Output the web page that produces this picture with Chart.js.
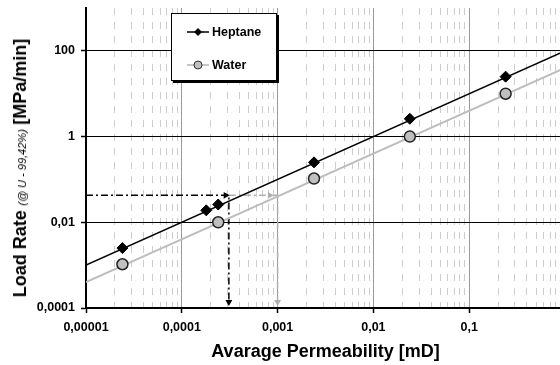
<!DOCTYPE html>
<html>
<head>
<meta charset="utf-8">
<script src="https://cdn.jsdelivr.net/npm/chart.js@4.4.0/dist/chart.umd.min.js"></script>
<style>
  html, body { margin: 0; padding: 0; overflow: hidden; background: #fff; }
  #wrap { position: relative; width: 600px; height: 365px; font-family: "Liberation Sans", Arial, sans-serif; }
  #ytitle {
    position: absolute; left: 20px; top: 168px; white-space: nowrap;
    transform: translate(-50%, -50%) rotate(-90deg); color: #000; line-height: 1;
  }
  #ytitle b { font-size: 18px; font-weight: bold; }
  #ytitle i { font-size: 11px; }
  #legend {
    position: absolute; left: 171px; top: 13px; width: 104px; height: 66px;
    background: #fff; border: 1px solid #000; box-shadow: 2px 2px 0 #000;
  }
  .row { position: absolute; left: 15px; height: 14px; display: flex; align-items: center;
         font-weight: bold; font-size: 12.5px; }
  .row svg { margin-right: 3px; }
</style>
</head>
<body>
<div id="wrap">
  <canvas id="permChart" width="600" height="365"></canvas>
  <div id="ytitle"><b>Load Rate</b> <i>(@ U - 99,42%)</i> <b>[MPa/min]</b></div>
  <div id="legend">
    <div class="row" style="top:11px">
      <svg width="22" height="12"><line x1="0" y1="6" x2="22" y2="6" stroke="#000" stroke-width="1.5"/><polygon points="11,2 15,6 11,10 7,6" fill="#000"/></svg>Heptane
    </div>
    <div class="row" style="top:44px">
      <svg width="22" height="12"><line x1="0" y1="6" x2="22" y2="6" stroke="#b4b4b4" stroke-width="1.5"/><circle cx="11" cy="6" r="4" fill="#c0c0c0" stroke="#333" stroke-width="1"/></svg>Water
    </div>
  </div>
</div>
<script>
document.addEventListener("DOMContentLoaded", function () {

  // measured points
  const heptanePerm = [0.000024, 0.00018, 0.00024, 0.0024, 0.024, 0.24];
  const heptaneRate = [0.0025, 0.019, 0.026, 0.25, 2.6, 25];
  const waterPerm = [0.000024, 0.00024, 0.0024, 0.024, 0.24];
  const waterRate = [0.00105, 0.0100, 0.105, 1.0, 10];

  // fitted lines (end points)
  const trendPerm = [0.00001, 1];
  const heptaneTrend = [0.001, 100];
  const waterTrend = [0.0004, 40];

  // dash-dot reading guides
  const guideBlackPerm = [0.00001, 0.00031, 0.00031];
  const guideBlackRate = [0.0425, 0.0425, 0.00013];
  const guideGrayPerm = [0.00031, 0.001, 0.001];
  const guideGrayRate = [0.0425, 0.0425, 0.00013];
  const arrowPerm = [0.000287, 0.00031, 0.00083, 0.001];
  const arrowRate = [0.0425, 0.000138, 0.0425, 0.000138];

  // axis ticks
  const xTickValues = [0.00001, 0.0001, 0.001, 0.01, 0.1, 1];
  const xTickLabels = ["0,00001", "0,0001", "0,001", "0,01", "0,1", "1"];
  const yTickValues = [0.0001, 0.01, 1, 100];
  const yTickLabels = ["0,0001", "0,01", "1", "100"];

  const FONT = "'Liberation Sans', Arial, sans-serif";
  const toXY = (xs, ys) => xs.map((x, i) => ({ x: x, y: ys[i] }));
  const isMajor = (v) => Math.abs(Math.log10(v) - Math.round(Math.log10(v))) < 1e-6;

  // minor ticks 1..9 per decade for the grid
  let xGridTicks = [];
  for (let d = 0; d < xTickValues.length - 1; d++) {
    for (let m = 1; m < 10; m++) xGridTicks.push(xTickValues[d] * m);
  }
  xGridTicks.push(xTickValues[xTickValues.length - 1]);

  const labelFor = (v, vals, labels) => {
    const i = vals.findIndex((t) => Math.abs(t - v) / t < 1e-6);
    return i >= 0 ? labels[i] : "";
  };

  const ctx = document.getElementById("permChart");
  const chart = new Chart(ctx, {
    type: "scatter",
    data: {
      datasets: [
        {
          label: "Heptane",
          data: toXY(heptanePerm, heptaneRate),
          pointStyle: "rectRot",
          pointRadius: 5.5,
          backgroundColor: "#000",
          borderColor: "#000",
          borderWidth: 1,
          showLine: false,
          order: 1,
        },
        {
          label: "Water",
          data: toXY(waterPerm, waterRate),
          pointStyle: "circle",
          pointRadius: 5.5,
          backgroundColor: "#c0c0c0",
          borderColor: "#222",
          borderWidth: 1.5,
          showLine: false,
          order: 2,
        },
        {
          label: "Heptane fit",
          data: toXY(trendPerm, heptaneTrend),
          showLine: true,
          borderColor: "#000",
          borderWidth: 1.5,
          pointRadius: 0,
          order: 3,
        },
        {
          label: "Water fit",
          data: toXY(trendPerm, waterTrend),
          showLine: true,
          borderColor: "#bdbdbd",
          borderWidth: 2,
          pointRadius: 0,
          order: 4,
        },
        {
          label: "guide black",
          data: toXY(guideBlackPerm, guideBlackRate),
          showLine: true,
          borderColor: "#000",
          borderWidth: 1.5,
          borderDash: [7, 3, 2, 3],
          pointRadius: 0,
          order: 5,
        },
        {
          label: "guide gray",
          data: toXY(guideGrayPerm, guideGrayRate),
          showLine: true,
          borderColor: "#b0b0b0",
          borderWidth: 1.5,
          borderDash: [7, 3, 2, 3],
          pointRadius: 0,
          order: 6,
        },
        {
          label: "arrows",
          data: toXY(arrowPerm, arrowRate),
          showLine: false,
          pointStyle: "triangle",
          pointRadius: 4,
          pointRotation: [90, 180, 90, 180],
          backgroundColor: ["#000", "#000", "#b0b0b0", "#b0b0b0"],
          borderColor: ["#000", "#000", "#b0b0b0", "#b0b0b0"],
          borderWidth: 0,
          order: 0,
        },
      ],
    },
    options: {
      responsive: false,
      animation: false,
      devicePixelRatio: 1,
      layout: { padding: { top: 8, right: 35, left: 0, bottom: 0 } },
      plugins: { legend: { display: false }, tooltip: { enabled: false } },
      scales: {
        x: {
          type: "logarithmic",
          min: 0.00001,
          max: 1,
          afterBuildTicks: (scale) => {
            scale.ticks = xGridTicks.map((v) => ({ value: v }));
          },
          afterFit: (scale) => { scale.height = 57; },
          ticks: {
            autoSkip: false,
            maxRotation: 0,
            padding: 7,
            color: "#000",
            font: { family: FONT, size: 12.5, weight: "bold" },
            callback: (v) => labelFor(v, xTickValues, xTickLabels),
          },
          grid: {
            color: (c) => (c.tick && isMajor(c.tick.value) ? "#9a9a9a" : "#cdcdcd"),
            lineWidth: 1,
            tickLength: 5,
            tickColor: (c) => (c.tick && isMajor(c.tick.value) ? "#000" : "rgba(0,0,0,0)"),
            tickWidth: 1.5,
          },
          border: {
            color: "#000",
            width: 2,
            dash: (c) => (c.tick && !isMajor(c.tick.value) ? [7, 7] : []),
          },
          title: {
            display: true,
            text: "Avarage Permeability [mD]",
            color: "#000",
            font: { family: FONT, size: 18, weight: "bold" },
            padding: { top: 0, bottom: 2 },
          },
        },
        y: {
          type: "logarithmic",
          min: 0.0001,
          max: 1000,
          afterBuildTicks: (scale) => {
            scale.ticks = yTickValues.map((v) => ({ value: v }));
          },
          afterFit: (scale) => {
            scale.width = 86;
            scale.paddingTop = 0;
            scale.paddingBottom = 0;
          },
          ticks: {
            padding: 6,
            color: "#000",
            font: { family: FONT, size: 12.5, weight: "bold" },
            callback: (v) => labelFor(v, yTickValues, yTickLabels),
          },
          grid: {
            color: "#000",
            lineWidth: 1,
            tickLength: 5,
            tickColor: "#000",
            tickWidth: 1.5,
          },
          border: { color: "#000", width: 2 },
        },
      },
    },
  });
});
</script>
</body>
</html>
